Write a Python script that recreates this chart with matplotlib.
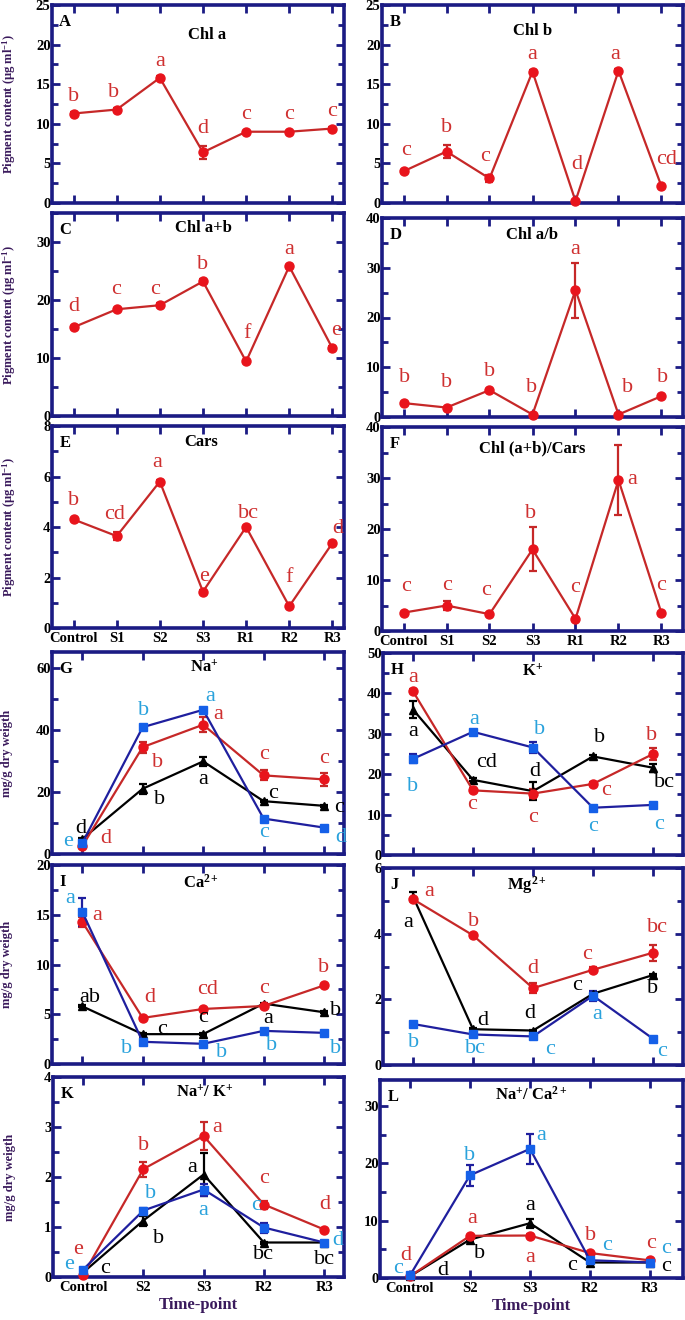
import matplotlib
matplotlib.use('Agg')
import matplotlib.pyplot as plt
from matplotlib.ticker import MultipleLocator

plt.rcParams['font.family'] = ['Liberation Serif', 'DejaVu Serif']
plt.rcParams['mathtext.fontset'] = 'custom'
plt.rcParams['mathtext.rm'] = 'Liberation Serif'
plt.rcParams['mathtext.bf'] = 'Liberation Serif:bold'
plt.rcParams['mathtext.it'] = 'Liberation Serif:italic'

# ---------------- data ----------------
pig_cats = ['Control', 'S1', 'S2', 'S3', 'R1', 'R2', 'R3']
ion_cats = ['Control', 'S2', 'S3', 'R2', 'R3']

chla = [11.3, 11.8, 15.8, 6.4, 9.0, 9.0, 9.4]
chla_err = [0.2, 0.2, 0.2, 0.8, 0.15, 0.15, 0.2]
chla_let = ['b', 'b', 'a', 'd', 'c', 'c', 'c']

chlb = [4.0, 6.5, 3.1, 16.6, 0.25, 16.7, 2.1]
chlb_err = [0.15, 0.8, 0.45, 0.2, 0.05, 0.2, 0.1]
chlb_let = ['c', 'b', 'c', 'a', 'd', 'a', 'cd']

chlab = [15.3, 18.4, 19.1, 23.2, 9.4, 25.8, 11.7]
chlab_err = [0.3, 0.3, 0.3, 0.4, 0.3, 0.3, 0.3]
chlab_let = ['d', 'c', 'c', 'b', 'f', 'a', 'e']

chlratio = [2.8, 1.9, 5.4, 0.5, 25.5, 0.5, 4.2]
chlratio_err = [0.2, 0.2, 0.3, 0.05, 5.5, 0.05, 0.2]
chlratio_let = ['b', 'b', 'b', 'b', 'a', 'b', 'b']

cars = [4.3, 3.64, 5.8, 1.44, 4.0, 0.86, 3.36]
cars_err = [0.05, 0.15, 0.05, 0.05, 0.05, 0.03, 0.05]
cars_let = ['b', 'cd', 'a', 'e', 'bc', 'f', 'd']

chlcars = [3.6, 5.0, 3.3, 16.0, 2.4, 29.6, 3.5]
chlcars_err = [0.2, 0.8, 0.2, 4.3, 0.2, 6.8, 0.2]
chlcars_let = ['c', 'c', 'c', 'b', 'c', 'a', 'c']

# ion series: red circles, blue squares, black triangles
na_red = [2.5, 34.4, 41.6, 25.3, 24.0]
na_red_err = [0.5, 1.8, 2.5, 1.6, 2.2]
na_red_let = ['d', 'b', 'a', 'c', 'c']
na_blue = [3.5, 40.8, 46.4, 11.4, 8.5]
na_blue_err = [0.5, 0.5, 0.5, 0.5, 0.5]
na_blue_let = ['e', 'b', 'a', 'c', 'd']
na_black = [4.8, 21.0, 29.8, 17.0, 15.5]
na_black_err = [0.3, 1.6, 1.5, 0.4, 0.4]
na_black_let = ['d', 'b', 'a', 'c', 'c']

k_red = [40.5, 16.0, 15.2, 17.6, 25.0]
k_red_err = [0.5, 0.5, 1.2, 0.5, 1.5]
k_red_let = ['a', 'c', 'c', 'c', 'b']
k_blue = [23.8, 30.5, 26.6, 11.7, 12.4]
k_blue_err = [1.1, 0.5, 1.3, 0.4, 0.4]
k_blue_let = ['b', 'a', 'b', 'c', 'c']
k_black = [36.0, 18.6, 15.8, 24.4, 21.6]
k_black_err = [2.2, 0.4, 2.3, 0.4, 1.0]
k_black_let = ['a', 'cd', 'd', 'b', 'bc']

ca_red = [14.3, 4.63, 5.53, 5.83, 7.9]
ca_red_err = [0.5, 0.1, 0.1, 0.1, 0.1]
ca_red_let = ['a', 'd', 'cd', 'c', 'b']
ca_blue = [15.3, 2.23, 2.03, 3.33, 3.13]
ca_blue_err = [1.4, 0.1, 0.1, 0.1, 0.1]
ca_blue_let = ['a', 'b', 'b', 'b', 'b']
ca_black = [5.8, 3.0, 3.0, 6.07, 5.2]
ca_black_err = [0.1, 0.1, 0.1, 0.1, 0.1]
ca_black_let = ['ab', 'c', 'c', 'a', 'b']

mg_red = [5.05, 3.95, 2.34, 2.9, 3.42]
mg_red_err = [0.05, 0.05, 0.15, 0.08, 0.25]
mg_red_let = ['a', 'b', 'd', 'c', 'bc']
mg_blue = [1.25, 0.93, 0.87, 2.11, 0.8]
mg_blue_err = [0.05, 0.05, 0.05, 0.15, 0.03]
mg_blue_let = ['b', 'bc', 'c', 'a', 'c']
mg_black = [5.13, 1.09, 1.05, 2.17, 2.74]
mg_black_err = [0.15, 0.03, 0.03, 0.03, 0.03]
mg_black_let = ['a', 'd', 'd', 'c', 'b']

nak_red = [0.04, 2.16, 2.82, 1.45, 0.95]
nak_red_err = [0.01, 0.15, 0.28, 0.08, 0.02]
nak_red_let = ['e', 'b', 'a', 'c', 'd']
nak_blue = [0.15, 1.33, 1.75, 0.99, 0.69]
nak_blue_err = [0.01, 0.05, 0.12, 0.1, 0.02]
nak_blue_let = ['e', 'b', 'a', 'c', 'd']
nak_black = [0.09, 1.13, 2.05, 0.69, 0.69]
nak_black_err = [0.01, 0.1, 0.43, 0.02, 0.02]
nak_black_let = ['c', 'b', 'a', 'bc', 'bc']

naca_red = [0.3, 7.35, 7.4, 4.35, 3.07]
naca_red_err = [0.05, 0.2, 0.2, 0.2, 0.1]
naca_red_let = ['d', 'a', 'a', 'b', 'c']
naca_blue = [0.46, 17.9, 22.5, 3.1, 2.7]
naca_blue_err = [0.05, 1.8, 2.6, 0.2, 0.2]
naca_blue_let = ['c', 'b', 'a', 'c', 'c']
naca_black = [0.3, 6.7, 9.55, 2.7, 2.7]
naca_black_err = [0.05, 0.3, 0.8, 0.2, 0.1]
naca_black_let = ['d', 'b', 'a', 'c', 'c']

# ---------------- styles ----------------
W, H = 685, 1320
NAVY = '#1b1b84'
PURPLE = '#3a1a5c'
STY = {
    'red': dict(line='#c62828', face='#e8141c', marker='o', ms=6.5, txt='#cf3030'),
    'blue': dict(line='#1f1f9e', face='#1560e8', marker='s', ms=6.3, txt='#2aa2dc'),
    'black': dict(line='black', face='black', marker='^', ms=5.5, txt='black'),
}
LETTER_SIZE = 16

fig = plt.figure(figsize=(W / 100, H / 100), dpi=100)


def make_ax(l, t, r, b):
    return fig.add_axes([l / W, 1 - b / H, (r - l) / W, (b - t) / H])


def style_ax(ax, n, xr, ylim, major, minor, showx):
    ax.set_xlim(-0.5, xr)
    ax.set_ylim(*ylim)
    ax.set_xticks(range(n))
    ax.yaxis.set_major_locator(MultipleLocator(major))
    ax.yaxis.set_minor_locator(MultipleLocator(minor))
    for s in ax.spines.values():
        s.set_color(NAVY)
        s.set_linewidth(2.6)
    ax.tick_params(which='both', direction='in', top=True, right=True,
                   color=NAVY, width=2.0)
    ax.tick_params(which='major', length=5.5)
    ax.tick_params(which='minor', length=4)
    ax.tick_params(axis='y', labelsize=10.5, pad=1)
    ax.tick_params(axis='x', labelsize=10.5, pad=3)
    for lab in ax.get_yticklabels():
        lab.set_fontweight('bold')
    if not showx:
        ax.set_xticklabels([])


def draw_series(ax, vals, errs, lets, offs, key):
    st = STY[key]
    x = list(range(len(vals)))
    ax.errorbar(x, vals, yerr=errs, color=st['line'], lw=1.6, capsize=3,
                elinewidth=1.6, capthick=1.6, marker=st['marker'], ms=st['ms'],
                mfc=st['face'], mec=st['face'], zorder=3, clip_on=False)
    for xi, yi, t, (dx, dy) in zip(x, vals, lets, offs):
        ax.annotate(t, (xi, yi), xytext=(dx, dy), textcoords='offset pixels',
                    ha='center', va='center', fontsize=LETTER_SIZE, color=st['txt'],
                    zorder=5, annotation_clip=False)


def decorate(ax, title, tx, ty, letter, ylabel=None, ylx=None, xlabel=False):
    ax.text(tx, ty, title, transform=ax.transAxes, ha='center', va='center',
            fontsize=12, fontweight='bold', color='black')
    ax.text(0.025, 0.915, letter, transform=ax.transAxes, ha='left', va='center',
            fontsize=12, fontweight='bold', color='black')
    if ylabel:
        ax.set_ylabel(ylabel, fontsize=9, fontweight='bold', color=PURPLE)
        ax.yaxis.set_label_coords(ylx, 0.5)
    if xlabel:
        ax.set_xlabel('Time-point', fontsize=12, fontweight='bold', color=PURPLE,
                      labelpad=2)
    for lab in ax.get_xticklabels():
        lab.set_fontweight('bold')


PIG = 'Pigment content (µg ml$^{\\mathbf{-1}}$)'
ION = 'mg/g dry weigth'

# Panel A
ax = make_ax(52, 5, 344, 203)
style_ax(ax, 7, 6.27, (0, 25), 5, 2.5, False)
draw_series(ax, chla, chla_err, chla_let,
            [(0, 17), (-3, 17), (0, 16), (0, 24), (0, 17), (0, 17), (0, 17)], 'red')
decorate(ax, 'Chl a', 0.53, 0.85, 'A', PIG, -0.116)

# Panel B
ax = make_ax(382, 5, 683, 203)
style_ax(ax, 7, 6.5, (0, 25), 5, 2.5, False)
draw_series(ax, chlb, chlb_err, chlb_let,
            [(3, 21), (0, 24), (-4, 22), (0, 17), (1, 37), (-3, 16), (5, 27)], 'red')
decorate(ax, 'Chl b', 0.50, 0.87, 'B')

# Panel C
ax = make_ax(52, 213, 344, 416)
style_ax(ax, 7, 6.27, (0, 35), 10, 5, False)
draw_series(ax, chlab, chlab_err, chlab_let,
            [(0, 21), (-1, 20), (-5, 16), (0, 17), (1, 28), (0, 17), (4, 18)], 'red')
decorate(ax, 'Chl a+b', 0.52, 0.926, 'C', PIG, -0.116)

# Panel D
ax = make_ax(382, 218, 683, 417)
style_ax(ax, 7, 6.5, (0, 40), 10, 5, False)
draw_series(ax, chlratio, chlratio_err, chlratio_let,
            [(1, 26), (0, 25), (0, 19), (-1, 27), (0, 41), (9, 27), (1, 19)], 'red')
decorate(ax, 'Chl a/b', 0.50, 0.915, 'D')

# Panel E
ax = make_ax(52, 426, 344, 628)
style_ax(ax, 7, 6.27, (0, 8), 2, 1, True)
ax.set_xticklabels(pig_cats)
draw_series(ax, cars, cars_err, cars_let,
            [(0, 19), (-2, 22), (-3, 19), (1, 15), (2, 13), (0, 29), (5, 15)], 'red')
decorate(ax, 'Cars', 0.51, 0.92, 'E', PIG, -0.116)

# Panel F
ax = make_ax(382, 427, 683, 631)
style_ax(ax, 7, 6.5, (0, 40), 10, 5, True)
ax.set_xticklabels(pig_cats)
draw_series(ax, chlcars, chlcars_err, chlcars_let,
            [(3, 26), (1, 20), (-3, 24), (-2, 36), (0, 31), (14, 1), (0, 28)], 'red')
decorate(ax, 'Chl (a+b)/Cars', 0.50, 0.896, 'F')

# Panel G
ax = make_ax(52, 652, 344, 854)
style_ax(ax, 5, 4.33, (0, 65), 20, 10, False)
draw_series(ax, na_black, na_black_err, na_black_let,
            [(-1, 11), (17, -11), (0, -18), (9, 8), (15, -2)], 'black')
draw_series(ax, na_red, na_red_err, na_red_let,
            [(24, 8), (15, -15), (15, 10), (0, 21), (0, 21)], 'red')
draw_series(ax, na_blue, na_blue_err, na_blue_let,
            [(-14, 2), (1, 17), (7, 13), (0, -14), (17, -10)], 'blue')
decorate(ax, 'Na$^{\\mathbf{+}}$', 0.52, 0.92, 'G', ION, -0.134)

# Panel H
ax = make_ax(383, 653, 683, 855)
style_ax(ax, 5, 4.5, (0, 50), 10, 5, False)
draw_series(ax, k_black, k_black_err, k_black_let,
            [(0, -22), (14, 17), (2, 20), (7, 19), (11, -15)], 'black')
draw_series(ax, k_red, k_red_err, k_red_let,
            [(0, 14), (-1, -14), (0, -24), (13, -7), (-1, 18)], 'red')
draw_series(ax, k_blue, k_blue_err, k_blue_let,
            [(0, -28), (1, 12), (7, 18), (0, -19), (6, -20)], 'blue')
decorate(ax, 'K$^{\\mathbf{+}}$', 0.497, 0.905, 'H')

# Panel I
ax = make_ax(52, 865, 344, 1064)
style_ax(ax, 5, 4.33, (0, 20), 5, 2.5, False)
draw_series(ax, ca_black, ca_black_err, ca_black_let,
            [(8, 9), (19, 5), (0, 17), (5, -15), (11, 2)], 'black')
draw_series(ax, ca_red, ca_red_err, ca_red_let,
            [(15, 6), (7, 20), (4, 19), (0, 17), (-1, 18)], 'red')
draw_series(ax, ca_blue, ca_blue_err, ca_blue_let,
            [(-12, 13), (-16, -7), (18, -9), (8, -15), (11, -16)], 'blue')
decorate(ax, 'Ca$^{\\mathbf{2+}}$', 0.51, 0.91, 'I', ION, -0.134)

# Panel J
ax = make_ax(383, 868, 683, 1065)
style_ax(ax, 5, 4.5, (0, 6), 2, 1, False)
draw_series(ax, mg_black, mg_black_err, mg_black_let,
            [(-5, -26), (10, 9), (-3, 17), (-16, 8), (0, -13)], 'black')
draw_series(ax, mg_red, mg_red_err, mg_red_let,
            [(16, 8), (1, 14), (0, 20), (-6, 15), (4, 25)], 'red')
draw_series(ax, mg_blue, mg_blue_err, mg_blue_let,
            [(1, -19), (2, -14), (17, -13), (4, -19), (9, -13)], 'blue')
decorate(ax, 'Mg$^{\\mathbf{2+}}$', 0.48, 0.915, 'J')

# Panel K
ax = make_ax(53, 1077, 344, 1277)
style_ax(ax, 5, 4.33, (0, 4), 1, 0.5, True)
ax.set_xticklabels(ion_cats)
draw_series(ax, nak_black, nak_black_err, nak_black_let,
            [(22, 4), (15, -18), (-11, 7), (0, -12), (0, -17)], 'black')
draw_series(ax, nak_red, nak_red_err, nak_red_let,
            [(-5, 26), (0, 23), (14, 9), (0, 26), (1, 25)], 'red')
draw_series(ax, nak_blue, nak_blue_err, nak_blue_let,
            [(-14, 5), (7, 17), (0, -21), (-8, 22), (14, 2)], 'blue')
decorate(ax, 'Na$^{\\mathbf{+}}$/ K$^{\\mathbf{+}}$', 0.52, 0.92, 'K', ION, -0.127,
         xlabel=True)

# Panel L
ax = make_ax(380, 1080, 683, 1278)
style_ax(ax, 5, 4.55, (0, 34.5), 10, 5, True)
ax.set_xticklabels(ion_cats)
draw_series(ax, naca_black, naca_black_err, naca_black_let,
            [(33, 6), (10, -14), (0, 18), (-18, -3), (16, -4)], 'black')
draw_series(ax, naca_red, naca_red_err, naca_red_let,
            [(-4, 21), (2, 17), (0, -22), (1, 18), (1, 17)], 'red')
draw_series(ax, naca_blue, naca_blue_err, naca_blue_let,
            [(-12, 7), (0, 20), (11, 13), (17, 15), (16, 14)], 'blue')
decorate(ax, 'Na$^{\\mathbf{+}}$/ Ca$^{\\mathbf{2+}}$', 0.50, 0.925, 'L',
         xlabel=True)

fig.savefig('out.png', dpi=100)
